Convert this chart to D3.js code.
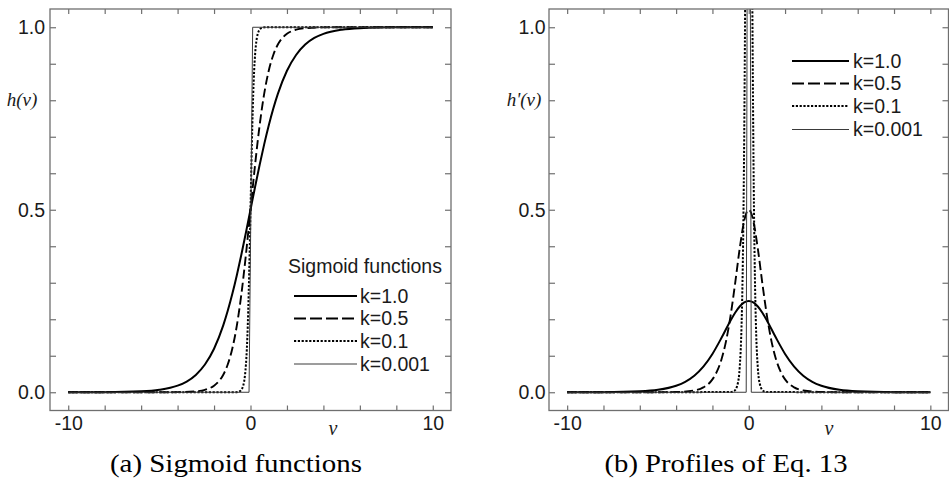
<!DOCTYPE html>
<html>
<head>
<meta charset="utf-8">
<script src="https://cdn.jsdelivr.net/npm/d3@7"></script>
<style>
  html, body { margin: 0; padding: 0; background: #fff; }
  svg { display: block; }
  .sans { font-family: Arial, "Liberation Sans", Helvetica, sans-serif; }
  .serif { font-family: "Times New Roman", "Liberation Serif", Times, serif; }
</style>
</head>
<body>
<svg id="chart" width="949" height="485"></svg>
<script>
// ---------------- DATA ----------------
const seriesNames = ["k=1.0", "k=0.5", "k=0.1", "k=0.001"];

// k = 1.0
const vK1 = [-10,-8,-6,-5,-4,-3.5,-3,-2.5,-2,-1.5,-1,-0.75,-0.5,-0.25,0,0.25,0.5,0.75,1,1.5,2,2.5,3,3.5,4,5,6,8,10];
const hK1 = [0.0000,0.0003,0.0025,0.0067,0.0180,0.0293,0.0474,0.0759,0.1192,0.1824,0.2689,0.3208,0.3775,0.4378,0.5000,0.5622,0.6225,0.6792,0.7311,0.8176,0.8808,0.9241,0.9526,0.9707,0.9820,0.9933,0.9975,0.9997,1.0000];
const dK1 = [0.0000,0.0003,0.0025,0.0066,0.0177,0.0285,0.0452,0.0701,0.1050,0.1491,0.1966,0.2179,0.2350,0.2461,0.2500,0.2461,0.2350,0.2179,0.1966,0.1491,0.1050,0.0701,0.0452,0.0285,0.0177,0.0066,0.0025,0.0003,0.0000];

// k = 0.5
const vK05 = [-10,-5,-4,-3,-2.5,-2,-1.75,-1.5,-1.25,-1,-0.75,-0.5,-0.25,-0.125,0,0.125,0.25,0.5,0.75,1,1.25,1.5,1.75,2,2.5,3,4,5,10];
const hK05 = [0.0000,0.0000,0.0003,0.0025,0.0067,0.0180,0.0293,0.0474,0.0759,0.1192,0.1824,0.2689,0.3775,0.4378,0.5000,0.5622,0.6225,0.7311,0.8176,0.8808,0.9241,0.9526,0.9707,0.9820,0.9933,0.9975,0.9997,1.0000,1.0000];
const dK05 = [0.0000,0.0001,0.0007,0.0049,0.0133,0.0353,0.0570,0.0904,0.1402,0.2100,0.2982,0.3932,0.4700,0.4922,0.5000,0.4922,0.4700,0.3932,0.2982,0.2100,0.1402,0.0904,0.0570,0.0353,0.0133,0.0049,0.0007,0.0001,0.0000];

// k = 0.1
const vK01 = [-10,-1,-0.8,-0.6,-0.5,-0.4,-0.35,-0.3,-0.25,-0.2,-0.15,-0.1,-0.05,-0.025,0,0.025,0.05,0.1,0.15,0.2,0.25,0.3,0.35,0.4,0.5,0.6,0.8,1,10];
const hK01 = [0.0000,0.0000,0.0003,0.0025,0.0067,0.0180,0.0293,0.0474,0.0759,0.1192,0.1824,0.2689,0.3775,0.4378,0.5000,0.5622,0.6225,0.7311,0.8176,0.8808,0.9241,0.9526,0.9707,0.9820,0.9933,0.9975,0.9997,1.0000,1.0000];
const dK01 = [0.0000,0.0005,0.0034,0.0247,0.0665,0.1766,0.2850,0.4520,0.7010,1.0500,1.4910,1.9660,2.3500,2.4610,2.5000,2.4610,2.3500,1.9660,1.4910,1.0500,0.7010,0.4520,0.2850,0.1766,0.0665,0.0247,0.0034,0.0005,0.0000];

// k = 0.001 (as sampled in the picture)
const vK0001h = [-10,-0.08,0.12,10];
const hK0001  = [0,0,1,1];
const vK0001d = [-10,-0.14,0,0.14,10];
const dK0001  = [0,0,3,0,0];

// ticks / labels
const xMinorTicks = [-10,-8,-6,-4,-2,0,2,4,6,8,10];
const xTickLabels = [-10,0,10];
const yMinorTicks = [0,0.1,0.2,0.3,0.4,0.5,0.6,0.7,0.8,0.9,1.0];
const yTickLabels = [0.0,0.5,1.0];

const captions = ["(a) Sigmoid functions", "(b) Profiles of Eq. 13"];
const yLabels = ["h(v)", "h'(v)"];
const xLabel = "v";
const legendTitle = "Sigmoid functions";

// ---------------- LAYOUT / STYLE ----------------
const svg = d3.select("#chart");
const frameColor = "#6f6f6f";
const textColor = "#1a1a1a";

const styles = [
  { width: 2.0, dash: null, color: "#000" },
  { width: 1.9, dash: "9,4", color: "#000" },
  { width: 2.0, dash: "2.2,1.6", color: "#000" },
  { width: 1.0, dash: null, color: "#3a3a3a" }
];

const panels = [
  { left: 50, right: 451, top: 9, bottom: 410.5, labelPad: 5,
    series: [[vK1,hK1],[vK05,hK05],[vK01,hK01],[vK0001h,hK0001]],
    yLabel: yLabels[0], yLabelX: 22, xLabelX: 333, captionX: 236, captionW: 252,
    legend: { title: true, titleX: 288, titleY: 266, lineX0: 294, lineX1: 357, textX: 360, ys: [296, 318.5, 341, 364] } },
  { left: 549, right: 948.5, top: 9, bottom: 410.5, labelPad: 3.5,
    series: [[vK1,dK1],[vK05,dK05],[vK01,dK01],[vK0001d,dK0001]],
    yLabel: yLabels[1], yLabelX: 524, xLabelX: 829, captionX: 726, captionW: 243,
    legend: { title: false, lineX0: 792, lineX1: 849, textX: 853, ys: [61, 83.5, 106, 129.5] } }
];

panels.forEach((p, pi) => {
  const x = d3.scaleLinear().domain([-11, 11]).range([p.left, p.right]);
  const y = d3.scaleLinear().domain([-0.05, 1.05]).range([p.bottom, p.top]);
  const g = svg.append("g");

  const clipId = "clip" + pi;
  svg.append("clipPath").attr("id", clipId)
    .append("rect").attr("x", p.left).attr("y", p.top)
    .attr("width", p.right - p.left).attr("height", p.bottom - p.top);

  // curves
  const curves = g.append("g").attr("clip-path", `url(#${clipId})`);
  p.series.forEach((s, i) => {
    const pts = s[0].map((v, j) => [v, s[1][j]]);
    const line = d3.line()
      .x(d => x(d[0])).y(d => y(d[1]))
      .curve(i === 3 ? d3.curveLinear : d3.curveMonotoneX);
    curves.append("path").datum(pts)
      .attr("d", line)
      .attr("fill", "none")
      .attr("stroke", styles[i].color)
      .attr("stroke-width", styles[i].width)
      .attr("stroke-dasharray", styles[i].dash)
      .attr("stroke-linejoin", "round");
  });

  // axes (ticks inward)
  const fmtX = d => xTickLabels.includes(d) ? String(d) : "";
  const fmtY = d => yTickLabels.some(t => Math.abs(t - d) < 1e-9) ? d3.format(".1f")(d) : "";

  const axB = g.append("g").attr("transform", `translate(0,${p.bottom})`)
    .call(d3.axisBottom(x).tickValues(xMinorTicks).tickFormat(fmtX).tickSizeInner(-5).tickSizeOuter(0).tickPadding(6));
  const axT = g.append("g").attr("transform", `translate(0,${p.top})`)
    .call(d3.axisTop(x).tickValues(xMinorTicks).tickFormat("").tickSizeInner(-5).tickSizeOuter(0));
  const axL = g.append("g").attr("transform", `translate(${p.left},0)`)
    .call(d3.axisLeft(y).tickValues(yMinorTicks).tickFormat(fmtY).tickSizeInner(-6).tickSizeOuter(0).tickPadding(p.labelPad));
  const axR = g.append("g").attr("transform", `translate(${p.right},0)`)
    .call(d3.axisRight(y).tickValues(yMinorTicks).tickFormat("").tickSizeInner(-6).tickSizeOuter(0));

  [axB, axT, axL, axR].forEach(a => {
    a.attr("font-family", null).attr("font-size", null);
    a.select(".domain").remove();
    a.selectAll(".tick line").attr("stroke", frameColor).attr("stroke-width", 1.2);
    a.selectAll(".tick text").attr("class", "sans").attr("fill", textColor).style("font-size", "19.5px");
  });

  // frame
  g.append("rect").attr("x", p.left).attr("y", p.top)
    .attr("width", p.right - p.left).attr("height", p.bottom - p.top)
    .attr("fill", "none").attr("stroke", frameColor).attr("stroke-width", 1.3);

  // axis labels
  g.append("text").attr("class", "serif").attr("x", p.yLabelX).attr("y", y(0.8)).attr("dy", "0.32em")
    .attr("text-anchor", "middle").style("font-style", "italic")
    .style("font-size", "19px").attr("fill", textColor).text(p.yLabel);
  g.append("text").attr("class", "serif").attr("x", p.xLabelX).attr("y", 435)
    .attr("text-anchor", "middle").style("font-style", "italic")
    .style("font-size", "20px").attr("fill", textColor).text(xLabel);

  // caption
  g.append("text").attr("class", "serif").attr("x", p.captionX - p.captionW / 2).attr("y", 472)
    .attr("textLength", p.captionW).attr("lengthAdjust", "spacingAndGlyphs")
    .style("font-size", "25px").attr("fill", "#000").text(captions[pi]);

  // legend
  const L = p.legend;
  const lg = g.append("g");
  if (L.title) {
    lg.append("text").attr("class", "sans").attr("x", L.titleX).attr("y", L.titleY).attr("dy", "0.35em")
      .style("font-size", "19.5px").attr("fill", textColor).text(legendTitle);
  }
  seriesNames.forEach((name, i) => {
    lg.append("line").attr("x1", L.lineX0).attr("x2", L.lineX1)
      .attr("y1", L.ys[i]).attr("y2", L.ys[i])
      .attr("stroke", styles[i].color).attr("stroke-width", styles[i].width)
      .attr("stroke-dasharray", i === 1 ? "12,4" : styles[i].dash);
    lg.append("text").attr("class", "sans").attr("x", L.textX).attr("y", L.ys[i]).attr("dy", "0.35em")
      .style("font-size", "19.5px").attr("fill", textColor).text(name);
  });
});
</script>
</body>
</html>
